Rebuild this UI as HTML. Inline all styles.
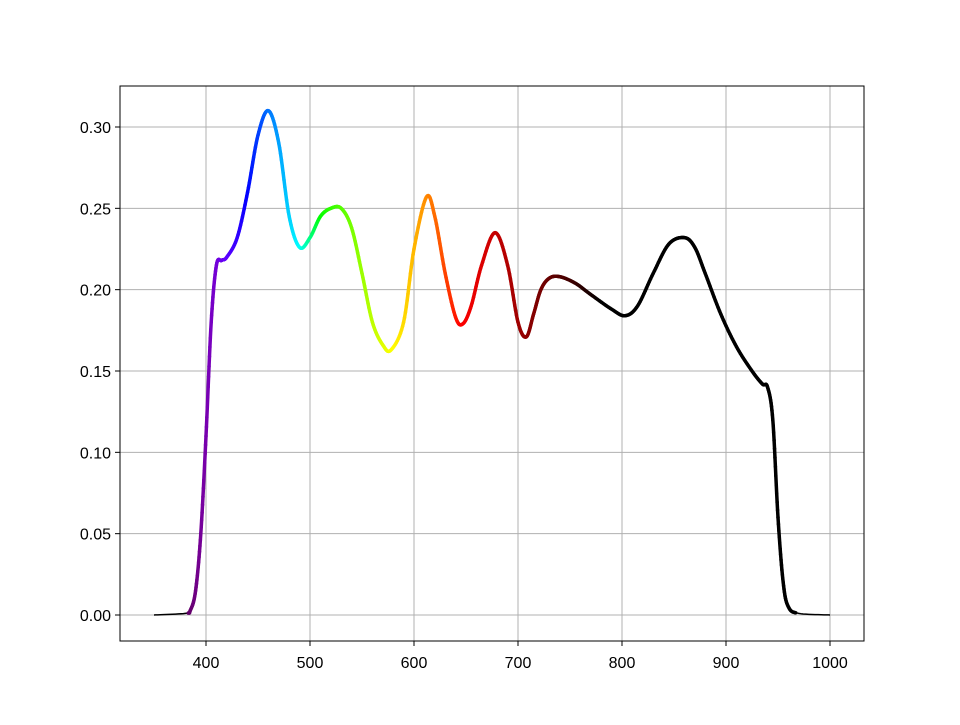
<!DOCTYPE html>
<html><head><meta charset="utf-8"><style>
body{margin:0;background:#fff;}
svg text{font-family:"Liberation Sans","DejaVu Sans",sans-serif;font-size:16px;fill:#000;}
</style></head><body>
<svg id="chart" width="960" height="720" xmlns="http://www.w3.org/2000/svg">
<rect width="960" height="720" fill="#fff"/>
<g id="grid"></g>
<g id="ticks"></g>
<g id="series"></g>
<rect x="120" y="86" width="744" height="555" fill="none" stroke="#000" stroke-width="1"/>
</svg>
<script>
const wavelengths=[350,380,385,390,395,400,405,410,415,420,430,440,450,460,470,480,490,500,510,520,530,540,550,560,570,578,590,600,612,620,630,640,647,655,665,678,690,700,708,715,722,730,740,755,770,790,803,815,830,845,860,870,880,895,910,925,935,940,945,950,955,960,970,1000];
const intensity=[0,0.001,0.003,0.015,0.05,0.11,0.18,0.215,0.218,0.22,0.232,0.26,0.295,0.31,0.29,0.245,0.226,0.232,0.245,0.25,0.25,0.238,0.21,0.18,0.166,0.163,0.18,0.225,0.257,0.245,0.21,0.183,0.179,0.19,0.215,0.235,0.215,0.18,0.171,0.185,0.2,0.207,0.208,0.204,0.197,0.188,0.184,0.19,0.21,0.228,0.232,0.226,0.21,0.185,0.165,0.15,0.142,0.14,0.12,0.06,0.02,0.005,0.001,0];
const xTicks=[400,500,600,700,800,900,1000];
const yTicks=[0,0.05,0.10,0.15,0.20,0.25,0.30];
const yTickLabels=["0.00","0.05","0.10","0.15","0.20","0.25","0.30"];

const X=v=>154+(v-350)*1.04;
const Y=v=>615-v*1626.67;
const NS="http://www.w3.org/2000/svg";
function mk(tag,attrs,parent){const e=document.createElementNS(NS,tag);for(const k in attrs)e.setAttribute(k,attrs[k]);parent.appendChild(e);return e;}
const grid=document.getElementById('grid'),ticks=document.getElementById('ticks'),series=document.getElementById('series');
xTicks.forEach(t=>{
  const g=mk('line',{x1:X(t),x2:X(t),y1:86,y2:641,stroke:'#b0b0b0','stroke-width':1},grid);
  
  
  const tk=mk('line',{x1:X(t),x2:X(t),y1:641,y2:646,stroke:'#000'},ticks);
  
  
  const tx=mk('text',{x:X(t),y:668,'text-anchor':'middle'},ticks);tx.textContent=t;
  
  
});
yTicks.forEach((t,i)=>{
  const g=mk('line',{x1:120,x2:864,y1:Y(t),y2:Y(t),stroke:'#b0b0b0','stroke-width':1},grid);
  
  
  const tk=mk('line',{x1:115,x2:120,y1:Y(t),y2:Y(t),stroke:'#000'},ticks);
  
  
  const tx=mk('text',{x:111,y:Y(t)+6,'text-anchor':'end'},ticks);tx.textContent=yTickLabels[i];
  
  
});
function wlColor(w){
  let r=0,g=0,b=0;
  if(w>=380&&w<440){r=-(w-440)/60;b=1;}
  else if(w>=440&&w<490){g=(w-440)/50;b=1;}
  else if(w>=490&&w<510){g=1;b=-(w-510)/20;}
  else if(w>=510&&w<580){r=(w-510)/70;g=1;}
  else if(w>=580&&w<645){r=1;g=-(w-645)/65;}
  else if(w>=645&&w<=780){r=1;}
  let f=0;
  if(w>=380&&w<420)f=0.3+0.7*(w-380)/40;
  else if(w>=420&&w<645)f=1;
  else if(w>=645&&w<=780)f=(780-w)/135;
  const c=v=>Math.round(255*Math.pow(v*f,0.9));
  return `rgb(${c(r)},${c(g)},${c(b)})`;
}
const pts=[];
for(let i=0;i<wavelengths.length-1;i++){
  const p0=i>0?i-1:i,p3=i+2<wavelengths.length?i+2:i+1;
  const xs=[wavelengths[p0],wavelengths[i],wavelengths[i+1],wavelengths[p3]];
  const ys=[intensity[p0],intensity[i],intensity[i+1],intensity[p3]];
  const n=12;
  for(let k=0;k<n;k++){
    const t=k/n,t2=t*t,t3=t2*t;
    const cr=a=>0.5*((2*a[1])+(-a[0]+a[2])*t+(2*a[0]-5*a[1]+4*a[2]-a[3])*t2+(-a[0]+3*a[1]-3*a[2]+a[3])*t3);
    pts.push([cr(xs),cr(ys)]);
  }
}
pts.push([wavelengths[wavelengths.length-1],intensity[intensity.length-1]]);
const base=mk('polyline',{points:pts.map(p=>X(p[0])+','+Y(p[1])).join(' '),fill:'none',stroke:'#000','stroke-width':1.5},series);


for(let i=0;i<pts.length-1;i++){
  const w=(pts[i][0]+pts[i+1][0])/2;
  if(w<383||w>967)continue;
  const s=mk('line',{x1:X(pts[i][0]),y1:Y(pts[i][1]),x2:X(pts[i+1][0]),y2:Y(pts[i+1][1]),stroke:wlColor(w),'stroke-width':3.5,'stroke-linecap':'round'},series);
  
  
}
</script>
</body></html>
